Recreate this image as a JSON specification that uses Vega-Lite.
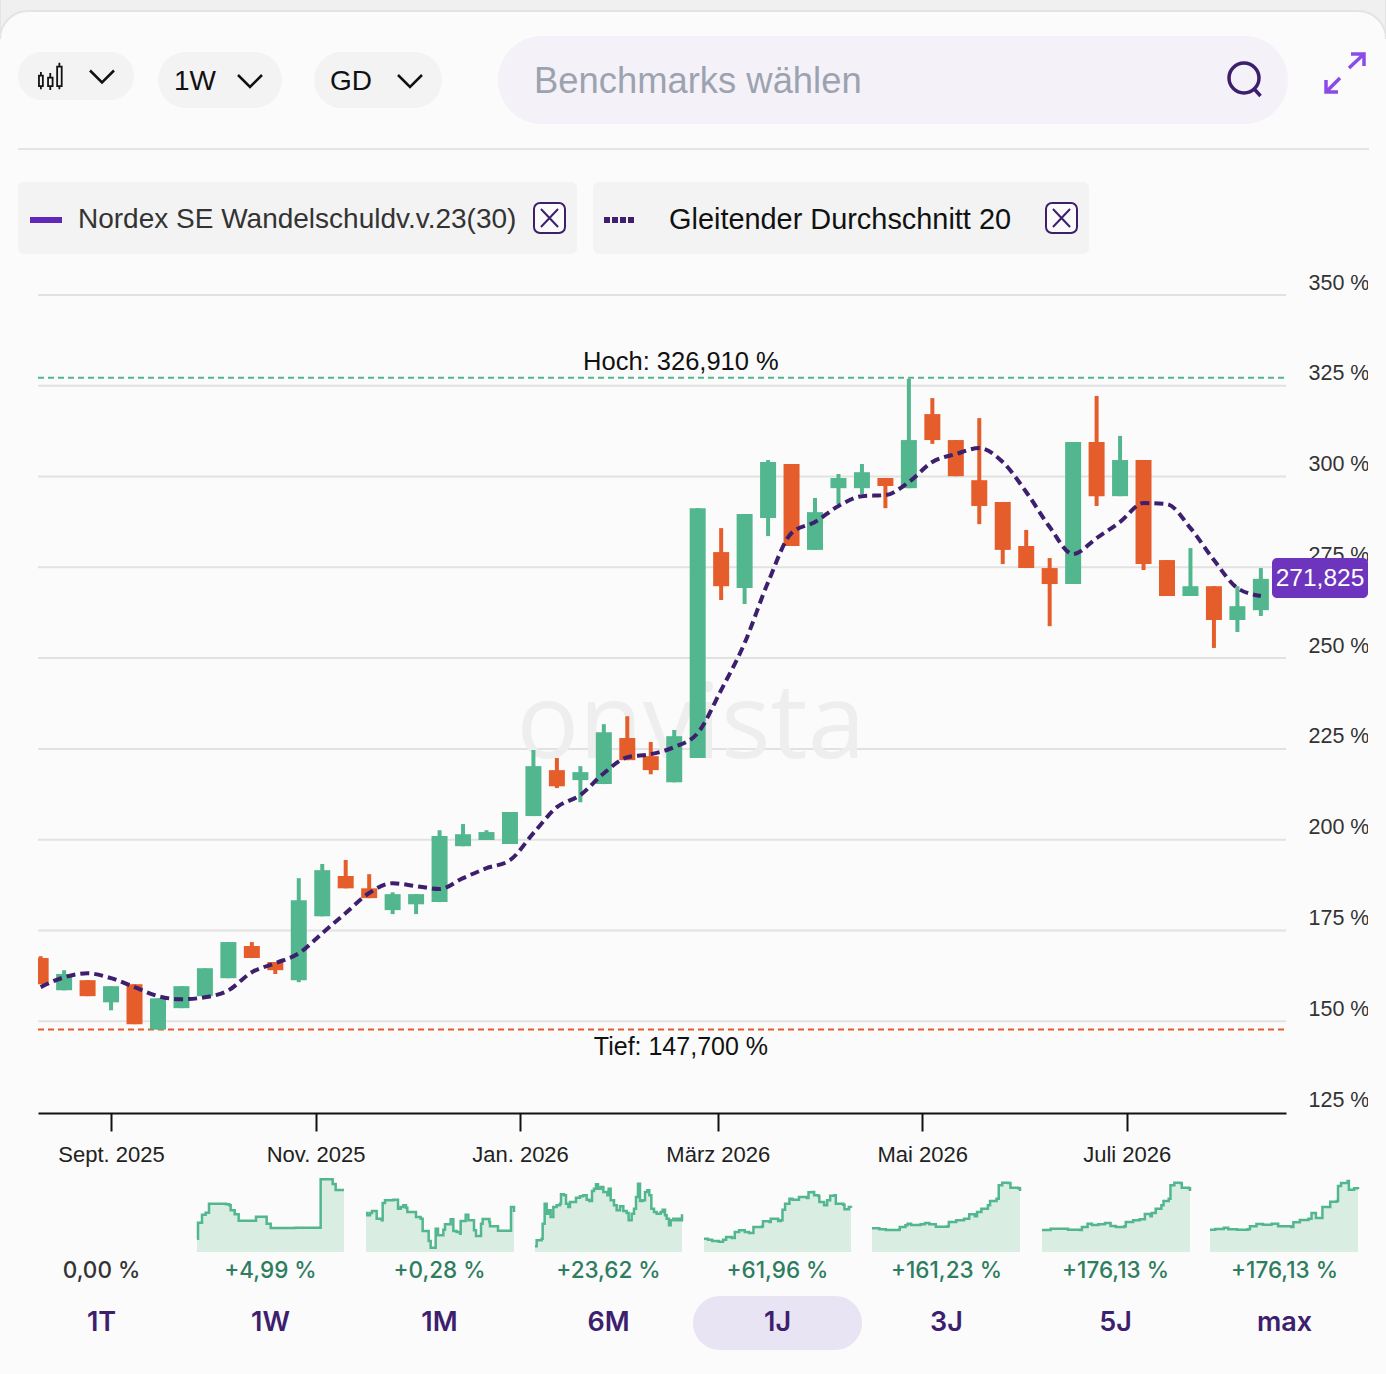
{
  "$schema": "https://vega.github.io/schema/vega-lite/v6.json",
  "width": 1386,
  "height": 1374,
  "padding": 0,
  "autosize": {"type": "none"},
  "background": "#fbfbfb",
  "config": {"view": {"stroke": null}, "font": "Liberation Sans"},
  "data": {"values": [{"part": "chrome"}]},
  "datasets": {
    "levels": [{"level": 350}, {"level": 325}, {"level": 300}, {"level": 275}, {"level": 250}, {"level": 225}, {"level": 200}, {"level": 175}, {"level": 150}],
    "weeks": [
      {"date": "2025-08-11T00:00:00", "open": 167.4, "high": 167.9, "low": 160.2, "close": 160.2, "sma": 159.4},
      {"date": "2025-08-18T00:00:00", "open": 158.5, "high": 164.05, "low": 158.5, "close": 163, "sma": 162.1},
      {"date": "2025-08-25T00:00:00", "open": 161.3, "high": 161.3, "low": 156.9, "close": 156.9, "sma": 163.2},
      {"date": "2025-09-01T00:00:00", "open": 155.2, "high": 159.65, "low": 153, "close": 159.65, "sma": 161.85},
      {"date": "2025-09-08T00:00:00", "open": 160.2, "high": 160.2, "low": 149.2, "close": 149.2, "sma": 159.4},
      {"date": "2025-09-15T00:00:00", "open": 147.7, "high": 156.3, "low": 147.7, "close": 156.3, "sma": 156.9},
      {"date": "2025-09-22T00:00:00", "open": 153.6, "high": 159.65, "low": 153.6, "close": 159.65, "sma": 156.05},
      {"date": "2025-09-29T00:00:00", "open": 156.9, "high": 164.6, "low": 156.9, "close": 164.6, "sma": 156.6},
      {"date": "2025-10-06T00:00:00", "open": 161.85, "high": 171.8, "low": 161.85, "close": 171.8, "sma": 158.5},
      {"date": "2025-10-13T00:00:00", "open": 170.7, "high": 171.8, "low": 167.4, "close": 167.4, "sma": 163.5},
      {"date": "2025-10-20T00:00:00", "open": 166.3, "high": 166.3, "low": 163, "close": 164.05, "sma": 166},
      {"date": "2025-10-27T00:00:00", "open": 161.3, "high": 189.4, "low": 160.75, "close": 183.3, "sma": 168.7},
      {"date": "2025-11-03T00:00:00", "open": 178.9, "high": 193.3, "low": 178.9, "close": 191.6, "sma": 174.25},
      {"date": "2025-11-10T00:00:00", "open": 190, "high": 194.4, "low": 186.6, "close": 186.6, "sma": 179.8},
      {"date": "2025-11-17T00:00:00", "open": 186.6, "high": 190.5, "low": 183.9, "close": 183.9, "sma": 185.3},
      {"date": "2025-11-24T00:00:00", "open": 180.6, "high": 185.5, "low": 179.5, "close": 185, "sma": 188},
      {"date": "2025-12-01T00:00:00", "open": 182.2, "high": 185, "low": 179.5, "close": 185, "sma": 187.2},
      {"date": "2025-12-08T00:00:00", "open": 182.8, "high": 202.6, "low": 182.8, "close": 201, "sma": 186.4},
      {"date": "2025-12-15T00:00:00", "open": 198.2, "high": 204.3, "low": 198.2, "close": 201.5, "sma": 189.4},
      {"date": "2025-12-22T00:00:00", "open": 199.9, "high": 202.6, "low": 199.9, "close": 202.1, "sma": 192.15},
      {"date": "2025-12-29T00:00:00", "open": 198.8, "high": 207.6, "low": 198.8, "close": 207.6, "sma": 194.35},
      {"date": "2026-01-05T00:00:00", "open": 206.5, "high": 224.7, "low": 206.5, "close": 220.25, "sma": 201.8},
      {"date": "2026-01-12T00:00:00", "open": 219.15, "high": 222.5, "low": 214.2, "close": 214.7, "sma": 208.95},
      {"date": "2026-01-19T00:00:00", "open": 216.4, "high": 220.25, "low": 210.3, "close": 218.6, "sma": 212.3},
      {"date": "2026-01-26T00:00:00", "open": 215.3, "high": 231.8, "low": 215.3, "close": 229.6, "sma": 218.3},
      {"date": "2026-02-02T00:00:00", "open": 228, "high": 234, "low": 221.9, "close": 221.9, "sma": 222.7},
      {"date": "2026-02-09T00:00:00", "open": 223, "high": 226.9, "low": 218, "close": 219.15, "sma": 223.55},
      {"date": "2026-02-16T00:00:00", "open": 215.8, "high": 230.2, "low": 215.8, "close": 228.5, "sma": 225.5},
      {"date": "2026-02-23T00:00:00", "open": 222.5, "high": 291.3, "low": 222.5, "close": 291.3, "sma": 229.35},
      {"date": "2026-03-02T00:00:00", "open": 279.2, "high": 285.8, "low": 266, "close": 269.8, "sma": 241.2},
      {"date": "2026-03-09T00:00:00", "open": 269.3, "high": 289.7, "low": 264.9, "close": 289.7, "sma": 254.15},
      {"date": "2026-03-16T00:00:00", "open": 288.6, "high": 304.55, "low": 283.6, "close": 304, "sma": 270.9},
      {"date": "2026-03-23T00:00:00", "open": 303.45, "high": 303.45, "low": 280.9, "close": 280.9, "sma": 284.45},
      {"date": "2026-03-30T00:00:00", "open": 279.8, "high": 294.1, "low": 279.8, "close": 290.2, "sma": 287.5},
      {"date": "2026-04-06T00:00:00", "open": 296.8, "high": 300.7, "low": 292.4, "close": 299.6, "sma": 291.9},
      {"date": "2026-04-13T00:00:00", "open": 296.8, "high": 303.45, "low": 295.2, "close": 301.2, "sma": 294.6},
      {"date": "2026-04-20T00:00:00", "open": 299.6, "high": 299.6, "low": 291.3, "close": 297.4, "sma": 294.9},
      {"date": "2026-04-27T00:00:00", "open": 296.8, "high": 326.91, "low": 296.8, "close": 310.05, "sma": 298.5},
      {"date": "2026-05-04T00:00:00", "open": 317.2, "high": 321.6, "low": 309, "close": 310.05, "sma": 304},
      {"date": "2026-05-11T00:00:00", "open": 310.05, "high": 310.05, "low": 300.1, "close": 300.1, "sma": 306.2},
      {"date": "2026-05-18T00:00:00", "open": 299, "high": 316.1, "low": 286.9, "close": 291.9, "sma": 307.85},
      {"date": "2026-05-25T00:00:00", "open": 293, "high": 293, "low": 275.9, "close": 279.8, "sma": 304},
      {"date": "2026-06-01T00:00:00", "open": 280.9, "high": 285.3, "low": 274.8, "close": 274.8, "sma": 295.75},
      {"date": "2026-06-08T00:00:00", "open": 274.8, "high": 277.55, "low": 258.8, "close": 270.4, "sma": 286.1},
      {"date": "2026-06-15T00:00:00", "open": 270.4, "high": 309.5, "low": 270.4, "close": 309.5, "sma": 278.65},
      {"date": "2026-06-22T00:00:00", "open": 309.5, "high": 322.2, "low": 291.9, "close": 294.6, "sma": 283.05},
      {"date": "2026-06-29T00:00:00", "open": 294.6, "high": 311.2, "low": 294.6, "close": 304.55, "sma": 287.5},
      {"date": "2026-07-06T00:00:00", "open": 304.55, "high": 304.55, "low": 274.25, "close": 275.9, "sma": 292.7},
      {"date": "2026-07-13T00:00:00", "open": 277, "high": 277, "low": 267.1, "close": 267.1, "sma": 292.4},
      {"date": "2026-07-20T00:00:00", "open": 267.1, "high": 280.3, "low": 267.1, "close": 269.8, "sma": 285.8},
      {"date": "2026-07-27T00:00:00", "open": 269.8, "high": 269.8, "low": 252.8, "close": 260.5, "sma": 277},
      {"date": "2026-08-03T00:00:00", "open": 260.5, "high": 269.8, "low": 257.2, "close": 264.3, "sma": 269.3},
      {"date": "2026-08-10T00:00:00", "open": 263.2, "high": 274.8, "low": 261.6, "close": 271.825, "sma": 267.1}
    ],
    "periods": [
      {"period": "1T", "change": "0,00 %", "up": false, "active": false},
      {"period": "1W", "change": "+4,99 %", "up": true, "active": false},
      {"period": "1M", "change": "+0,28 %", "up": true, "active": false},
      {"period": "6M", "change": "+23,62 %", "up": true, "active": false},
      {"period": "1J", "change": "+61,96 %", "up": true, "active": true},
      {"period": "3J", "change": "+161,23 %", "up": true, "active": false},
      {"period": "5J", "change": "+176,13 %", "up": true, "active": false},
      {"period": "max", "change": "+176,13 %", "up": true, "active": false}
    ]
  },
  "resolve": {"scale": {"x": "independent", "y": "independent"}},
  "layer": [
    {"mark": {"type": "point", "shape": "M-1,-0.0361L1,-0.0361L1,0.0274A0.0404,0.0404 0 0,0 0.9596,-0.013L-0.9596,-0.013A0.0404,0.0404 0 0,0 -1,0.0274Z", "size": 1920996, "filled": true, "fill": "#f0f0f0", "stroke": "#e4e4e4", "strokeWidth": 2, "opacity": 1}, "encoding": {"x": {"datum": 693, "type": "quantitative", "axis": null, "scale": {"domain": [0, 1386], "range": [0, 1386]}}, "y": {"datum": 20, "type": "quantitative", "axis": null, "scale": {"domain": [0, 1374], "range": [0, 1374]}}}},
    {"mark": {"type": "rect", "fill": "#f3f3f3", "cornerRadius": 24}, "encoding": {"x": {"datum": 18, "type": "quantitative", "axis": null, "scale": {"domain": [0, 1386], "range": [0, 1386]}}, "x2": {"datum": 134}, "y": {"datum": 52, "type": "quantitative", "axis": null, "scale": {"domain": [0, 1374], "range": [0, 1374]}}, "y2": {"datum": 100}}},
    {"mark": {"type": "rect", "fill": "#f3f3f3", "cornerRadius": 28}, "encoding": {"x": {"datum": 158, "type": "quantitative", "axis": null, "scale": {"domain": [0, 1386], "range": [0, 1386]}}, "x2": {"datum": 282}, "y": {"datum": 52, "type": "quantitative", "axis": null, "scale": {"domain": [0, 1374], "range": [0, 1374]}}, "y2": {"datum": 108}}},
    {"mark": {"type": "rect", "fill": "#f3f3f3", "cornerRadius": 28}, "encoding": {"x": {"datum": 314, "type": "quantitative", "axis": null, "scale": {"domain": [0, 1386], "range": [0, 1386]}}, "x2": {"datum": 442}, "y": {"datum": 52, "type": "quantitative", "axis": null, "scale": {"domain": [0, 1374], "range": [0, 1374]}}, "y2": {"datum": 108}}},
    {"mark": {"type": "rect", "fill": "#f4f1f9", "cornerRadius": 44}, "encoding": {"x": {"datum": 498, "type": "quantitative", "axis": null, "scale": {"domain": [0, 1386], "range": [0, 1386]}}, "x2": {"datum": 1288}, "y": {"datum": 36, "type": "quantitative", "axis": null, "scale": {"domain": [0, 1374], "range": [0, 1374]}}, "y2": {"datum": 124}}},
    {"mark": {"type": "rect", "fill": "#e4e4e4"}, "encoding": {"x": {"datum": 18, "type": "quantitative", "axis": null, "scale": {"domain": [0, 1386], "range": [0, 1386]}}, "x2": {"datum": 1369}, "y": {"datum": 148, "type": "quantitative", "axis": null, "scale": {"domain": [0, 1374], "range": [0, 1374]}}, "y2": {"datum": 150}}},
    {"mark": {"type": "rect", "fill": "#f3f3f3", "cornerRadius": 6}, "encoding": {"x": {"datum": 18, "type": "quantitative", "axis": null, "scale": {"domain": [0, 1386], "range": [0, 1386]}}, "x2": {"datum": 577}, "y": {"datum": 182, "type": "quantitative", "axis": null, "scale": {"domain": [0, 1374], "range": [0, 1374]}}, "y2": {"datum": 254}}},
    {"mark": {"type": "rect", "fill": "#f3f3f3", "cornerRadius": 6}, "encoding": {"x": {"datum": 593, "type": "quantitative", "axis": null, "scale": {"domain": [0, 1386], "range": [0, 1386]}}, "x2": {"datum": 1089}, "y": {"datum": 182, "type": "quantitative", "axis": null, "scale": {"domain": [0, 1374], "range": [0, 1374]}}, "y2": {"datum": 254}}},
    {"mark": {"type": "rect", "fill": "#5f28b8"}, "encoding": {"x": {"datum": 30, "type": "quantitative", "axis": null, "scale": {"domain": [0, 1386], "range": [0, 1386]}}, "x2": {"datum": 62}, "y": {"datum": 217, "type": "quantitative", "axis": null, "scale": {"domain": [0, 1374], "range": [0, 1374]}}, "y2": {"datum": 223}}},
    {"mark": {"type": "rule", "stroke": "#3d1f6e", "strokeWidth": 6, "strokeDash": [6, 2]}, "encoding": {"x": {"datum": 604, "type": "quantitative", "axis": null, "scale": {"domain": [0, 1386], "range": [0, 1386]}}, "x2": {"datum": 634}, "y": {"datum": 220, "type": "quantitative", "axis": null, "scale": {"domain": [0, 1374], "range": [0, 1374]}}}},
    {"mark": {"type": "rect", "fill": "#fbfbfb", "stroke": "#3d1f6e", "strokeWidth": 2, "cornerRadius": 6}, "encoding": {"x": {"datum": 534, "type": "quantitative", "axis": null, "scale": {"domain": [0, 1386], "range": [0, 1386]}}, "x2": {"datum": 565}, "y": {"datum": 203, "type": "quantitative", "axis": null, "scale": {"domain": [0, 1374], "range": [0, 1374]}}, "y2": {"datum": 233}}},
    {"mark": {"type": "rect", "fill": "#fbfbfb", "stroke": "#3d1f6e", "strokeWidth": 2, "cornerRadius": 6}, "encoding": {"x": {"datum": 1046, "type": "quantitative", "axis": null, "scale": {"domain": [0, 1386], "range": [0, 1386]}}, "x2": {"datum": 1077}, "y": {"datum": 203, "type": "quantitative", "axis": null, "scale": {"domain": [0, 1374], "range": [0, 1374]}}, "y2": {"datum": 233}}},
    {"mark": {"type": "point", "shape": "M-0.95,-1L0.95,1M0.95,-1L-0.95,1", "size": 324, "filled": false, "stroke": "#3d1f6e", "strokeWidth": 2, "opacity": 1}, "encoding": {"x": {"datum": 549.5, "type": "quantitative", "axis": null, "scale": {"domain": [0, 1386], "range": [0, 1386]}}, "y": {"datum": 218, "type": "quantitative", "axis": null, "scale": {"domain": [0, 1374], "range": [0, 1374]}}}},
    {"mark": {"type": "point", "shape": "M-0.95,-1L0.95,1M0.95,-1L-0.95,1", "size": 324, "filled": false, "stroke": "#3d1f6e", "strokeWidth": 2, "opacity": 1}, "encoding": {"x": {"datum": 1061.5, "type": "quantitative", "axis": null, "scale": {"domain": [0, 1386], "range": [0, 1386]}}, "y": {"datum": 218, "type": "quantitative", "axis": null, "scale": {"domain": [0, 1374], "range": [0, 1374]}}}},
    {"mark": {"type": "point", "shape": "M-0.85,-0.1H-0.55V0.7H-0.85ZM-0.7,-0.38V-0.1M-0.7,0.7V0.95M-0.15,0.05H0.2V0.7H-0.15ZM0.02,-0.3V0.05M0.02,0.7V1M0.55,-0.8H0.9V0.7H0.55ZM0.72,-1.1V-0.8M0.72,0.7V0.95", "size": 676, "filled": false, "stroke": "#111111", "strokeWidth": 1.8, "opacity": 1}, "encoding": {"x": {"datum": 50, "type": "quantitative", "axis": null, "scale": {"domain": [0, 1386], "range": [0, 1386]}}, "y": {"datum": 77, "type": "quantitative", "axis": null, "scale": {"domain": [0, 1374], "range": [0, 1374]}}}},
    {"mark": {"type": "point", "shape": "M-1,-0.5L0,0.5L1,-0.5", "size": 576, "filled": false, "stroke": "#111111", "strokeWidth": 2.5, "opacity": 1}, "encoding": {"x": {"datum": 102, "type": "quantitative", "axis": null, "scale": {"domain": [0, 1386], "range": [0, 1386]}}, "y": {"datum": 76.5, "type": "quantitative", "axis": null, "scale": {"domain": [0, 1374], "range": [0, 1374]}}}},
    {"mark": {"type": "point", "shape": "M-1,-0.5L0,0.5L1,-0.5", "size": 576, "filled": false, "stroke": "#111111", "strokeWidth": 2.5, "opacity": 1}, "encoding": {"x": {"datum": 250, "type": "quantitative", "axis": null, "scale": {"domain": [0, 1386], "range": [0, 1386]}}, "y": {"datum": 81, "type": "quantitative", "axis": null, "scale": {"domain": [0, 1374], "range": [0, 1374]}}}},
    {"mark": {"type": "point", "shape": "M-1,-0.5L0,0.5L1,-0.5", "size": 576, "filled": false, "stroke": "#111111", "strokeWidth": 2.5, "opacity": 1}, "encoding": {"x": {"datum": 410, "type": "quantitative", "axis": null, "scale": {"domain": [0, 1386], "range": [0, 1386]}}, "y": {"datum": 81, "type": "quantitative", "axis": null, "scale": {"domain": [0, 1374], "range": [0, 1374]}}}},
    {"mark": {"type": "point", "shape": "M-1,0A1,1 0 1,1 1,0A1,1 0 1,1 -1,0M0.7,0.75L1.1,1.2", "size": 900, "filled": false, "stroke": "#3d1f6e", "strokeWidth": 3.5, "opacity": 1}, "encoding": {"x": {"datum": 1244, "type": "quantitative", "axis": null, "scale": {"domain": [0, 1386], "range": [0, 1386]}}, "y": {"datum": 78, "type": "quantitative", "axis": null, "scale": {"domain": [0, 1374], "range": [0, 1374]}}}},
    {"mark": {"type": "point", "shape": "M0.3,-0.95L0.95,-0.95L0.95,-0.35M0.95,-0.95L0.2,-0.25M-0.95,0.35L-0.95,0.95L-0.35,0.95M-0.95,0.95L-0.25,0.25", "size": 1600, "filled": false, "stroke": "#8a4be8", "strokeWidth": 3.5, "opacity": 1}, "encoding": {"x": {"datum": 1345, "type": "quantitative", "axis": null, "scale": {"domain": [0, 1386], "range": [0, 1386]}}, "y": {"datum": 73, "type": "quantitative", "axis": null, "scale": {"domain": [0, 1374], "range": [0, 1374]}}}},
    {"mark": {"type": "text", "text": "1W", "fontSize": 28, "align": "left", "baseline": "middle", "color": "#111111"}, "encoding": {"x": {"datum": 174, "type": "quantitative", "axis": null, "scale": {"domain": [0, 1386], "range": [0, 1386]}}, "y": {"datum": 82, "type": "quantitative", "axis": null, "scale": {"domain": [0, 1374], "range": [0, 1374]}}}},
    {"mark": {"type": "text", "text": "GD", "fontSize": 28, "align": "left", "baseline": "middle", "color": "#111111"}, "encoding": {"x": {"datum": 330, "type": "quantitative", "axis": null, "scale": {"domain": [0, 1386], "range": [0, 1386]}}, "y": {"datum": 82, "type": "quantitative", "axis": null, "scale": {"domain": [0, 1374], "range": [0, 1374]}}}},
    {"mark": {"type": "text", "text": "Benchmarks wählen", "fontSize": 36.4, "align": "left", "baseline": "middle", "color": "#9ca3af"}, "encoding": {"x": {"datum": 534, "type": "quantitative", "axis": null, "scale": {"domain": [0, 1386], "range": [0, 1386]}}, "y": {"datum": 82, "type": "quantitative", "axis": null, "scale": {"domain": [0, 1374], "range": [0, 1374]}}}},
    {"mark": {"type": "text", "text": "Nordex SE Wandelschuldv.v.23(30)", "fontSize": 28, "align": "left", "baseline": "middle", "color": "#333333"}, "encoding": {"x": {"datum": 78, "type": "quantitative", "axis": null, "scale": {"domain": [0, 1386], "range": [0, 1386]}}, "y": {"datum": 219.5, "type": "quantitative", "axis": null, "scale": {"domain": [0, 1374], "range": [0, 1374]}}}},
    {"mark": {"type": "text", "text": "Gleitender Durchschnitt 20", "fontSize": 28.9, "align": "left", "baseline": "middle", "color": "#111111"}, "encoding": {"x": {"datum": 669, "type": "quantitative", "axis": null, "scale": {"domain": [0, 1386], "range": [0, 1386]}}, "y": {"datum": 219.5, "type": "quantitative", "axis": null, "scale": {"domain": [0, 1374], "range": [0, 1374]}}}},
    {
      "layer": [
        {
          "data": {"name": "levels"},
          "mark": {"type": "rule", "stroke": "#e2e2e2", "strokeWidth": 2},
          "encoding": {
            "x": {"datum": {"year": 2025, "month": 8, "date": 10, "hours": 5}, "type": "temporal", "title": null,
              "scale": {"domain": [{"year": 2025, "month": 8, "date": 10, "hours": 5}, {"year": 2026, "month": 8, "date": 17, "hours": 12}], "range": [38, 1286], "padding": 0},
              "axis": {"title": null, "orient": "bottom", "offset": -261, "values": [{"year": 2025, "month": 9, "date": 1}, {"year": 2025, "month": 11, "date": 1}, {"year": 2026, "month": 1, "date": 1}, {"year": 2026, "month": 3, "date": 1}, {"year": 2026, "month": 5, "date": 1}, {"year": 2026, "month": 7, "date": 1}],
                "labelExpr": "['Jan.','','März','','Mai','','Juli','','Sept.','','Nov.',''][month(datum.value)]+' '+year(datum.value)",
                "grid": false, "domainColor": "#111111", "domainWidth": 2, "tickColor": "#111111", "tickWidth": 2, "tickSize": 18, "labelPadding": 23, "labelBaseline": "middle", "labelFontSize": 22, "labelColor": "#222222", "labelOverlap": false, "labelFlush": false}},
            "x2": {"datum": {"year": 2026, "month": 8, "date": 17, "hours": 12}},
            "y": {"field": "level", "type": "quantitative", "title": null,
              "scale": {"domain": [125, 350], "range": [1112, 295], "nice": false},
              "axis": {"title": null, "orient": "right", "offset": -100, "values": [125, 150, 175, 200, 225, 250, 275, 300, 325, 350], "labelExpr": "datum.value+' %'", "grid": false, "domain": false, "ticks": false, "labelPadding": 22, "labelOffset": -12, "labelFontSize": 21.5, "labelColor": "#333333", "labelOverlap": false, "labelFlush": false, "labelAlign": "left"}}
          }
        },
        {
          "mark": {"type": "text", "text": "onvista", "fontSize": 104, "font": "Open Sans", "fontWeight": 500, "color": "#eeeeee", "baseline": "middle"},
          "encoding": {
            "x": {"datum": {"year": 2026, "month": 2, "date": 21}, "type": "temporal", "title": null, "scale": {"domain": [{"year": 2025, "month": 8, "date": 10, "hours": 5}, {"year": 2026, "month": 8, "date": 17, "hours": 12}], "range": [38, 1286], "padding": 0}},
            "y": {"datum": 231, "type": "quantitative", "title": null, "scale": {"domain": [125, 350], "range": [1112, 295], "nice": false}}
          }
        },
        {
          "data": {"values": [{"label": "Hoch: 326,910 %", "value": 326.91}]},
          "mark": {"type": "rule", "stroke": "#52b78f", "strokeWidth": 2, "strokeDash": [6, 4], "yOffset": -1},
          "encoding": {
            "x": {"datum": {"year": 2025, "month": 8, "date": 10, "hours": 5}, "type": "temporal", "title": null, "scale": {"domain": [{"year": 2025, "month": 8, "date": 10, "hours": 5}, {"year": 2026, "month": 8, "date": 17, "hours": 12}], "range": [38, 1286], "padding": 0}},
            "x2": {"datum": {"year": 2026, "month": 8, "date": 17, "hours": 12}},
            "y": {"field": "value", "type": "quantitative", "title": null, "scale": {"domain": [125, 350], "range": [1112, 295], "nice": false}}
          }
        },
        {
          "data": {"values": [{"label": "Tief: 147,700 %", "value": 147.7}]},
          "mark": {"type": "rule", "stroke": "#e55d2b", "strokeWidth": 2, "strokeDash": [6, 4]},
          "encoding": {
            "x": {"datum": {"year": 2025, "month": 8, "date": 10, "hours": 5}, "type": "temporal", "title": null, "scale": {"domain": [{"year": 2025, "month": 8, "date": 10, "hours": 5}, {"year": 2026, "month": 8, "date": 17, "hours": 12}], "range": [38, 1286], "padding": 0}},
            "x2": {"datum": {"year": 2026, "month": 8, "date": 17, "hours": 12}},
            "y": {"field": "value", "type": "quantitative", "title": null, "scale": {"domain": [125, 350], "range": [1112, 295], "nice": false}}
          }
        },
        {
          "data": {"name": "weeks"},
          "mark": {"type": "rule", "strokeWidth": 4},
          "encoding": {
            "x": {"field": "date", "type": "temporal", "title": null, "scale": {"domain": [{"year": 2025, "month": 8, "date": 10, "hours": 5}, {"year": 2026, "month": 8, "date": 17, "hours": 12}], "range": [38, 1286], "padding": 0}},
            "y": {"field": "low", "type": "quantitative", "title": null, "scale": {"domain": [125, 350], "range": [1112, 295], "nice": false}},
            "y2": {"field": "high"},
            "color": {"condition": {"test": "datum.close>=datum.open", "value": "#52b78f"}, "value": "#e55d2b"}
          }
        },
        {
          "data": {"name": "weeks"},
          "mark": {"type": "bar", "size": 16},
          "encoding": {
            "x": {"field": "date", "type": "temporal", "title": null, "scale": {"domain": [{"year": 2025, "month": 8, "date": 10, "hours": 5}, {"year": 2026, "month": 8, "date": 17, "hours": 12}], "range": [38, 1286], "padding": 0}},
            "y": {"field": "open", "type": "quantitative", "title": null, "scale": {"domain": [125, 350], "range": [1112, 295], "nice": false}},
            "y2": {"field": "close"},
            "color": {"condition": {"test": "datum.close>=datum.open", "value": "#52b78f"}, "value": "#e55d2b"}
          }
        },
        {
          "data": {"name": "weeks"},
          "mark": {"type": "line", "stroke": "#3d1f6e", "strokeWidth": 4, "strokeDash": [9, 5], "interpolate": "monotone"},
          "encoding": {
            "x": {"field": "date", "type": "temporal", "title": null, "scale": {"domain": [{"year": 2025, "month": 8, "date": 10, "hours": 5}, {"year": 2026, "month": 8, "date": 17, "hours": 12}], "range": [38, 1286], "padding": 0}},
            "y": {"field": "sma", "type": "quantitative", "title": null, "scale": {"domain": [125, 350], "range": [1112, 295], "nice": false}}
          }
        },
        {
          "data": {"values": [{"label": "Hoch: 326,910 %", "value": 326.91}]},
          "mark": {"type": "text", "fontSize": 25.5, "color": "#111111", "dy": -17, "baseline": "middle"},
          "encoding": {
            "x": {"datum": {"year": 2026, "month": 2, "date": 18}, "type": "temporal", "title": null, "scale": {"domain": [{"year": 2025, "month": 8, "date": 10, "hours": 5}, {"year": 2026, "month": 8, "date": 17, "hours": 12}], "range": [38, 1286], "padding": 0}},
            "y": {"field": "value", "type": "quantitative", "title": null, "scale": {"domain": [125, 350], "range": [1112, 295], "nice": false}},
            "text": {"field": "label"}
          }
        },
        {
          "data": {"values": [{"label": "Tief: 147,700 %", "value": 147.7}]},
          "mark": {"type": "text", "fontSize": 25, "color": "#111111", "dy": 17, "baseline": "middle"},
          "encoding": {
            "x": {"datum": {"year": 2026, "month": 2, "date": 18}, "type": "temporal", "title": null, "scale": {"domain": [{"year": 2025, "month": 8, "date": 10, "hours": 5}, {"year": 2026, "month": 8, "date": 17, "hours": 12}], "range": [38, 1286], "padding": 0}},
            "y": {"field": "value", "type": "quantitative", "title": null, "scale": {"domain": [125, 350], "range": [1112, 295], "nice": false}},
            "text": {"field": "label"}
          }
        }
      ]
    },
    {"mark": {"type": "rect", "fill": "#fbfbfb"}, "encoding": {"x": {"datum": 20, "type": "quantitative", "axis": null, "scale": {"domain": [0, 1386], "range": [0, 1386]}}, "x2": {"datum": 38}, "y": {"datum": 940, "type": "quantitative", "axis": null, "scale": {"domain": [0, 1374], "range": [0, 1374]}}, "y2": {"datum": 1000}}},
    {"mark": {"type": "rect", "fill": "#fbfbfb"}, "encoding": {"x": {"datum": 1368, "type": "quantitative", "axis": null, "scale": {"domain": [0, 1386], "range": [0, 1386]}}, "x2": {"datum": 1386}, "y": {"datum": 265, "type": "quantitative", "axis": null, "scale": {"domain": [0, 1374], "range": [0, 1374]}}, "y2": {"datum": 1120}}},
    {"mark": {"type": "rect", "fill": "#6d35bd", "cornerRadius": 5}, "encoding": {"x": {"datum": 1272, "type": "quantitative", "axis": null, "scale": {"domain": [0, 1386], "range": [0, 1386]}}, "x2": {"datum": 1368}, "y": {"datum": 558, "type": "quantitative", "axis": null, "scale": {"domain": [0, 1374], "range": [0, 1374]}}, "y2": {"datum": 598}}},
    {"mark": {"type": "text", "text": "271,825", "fontSize": 24.5, "color": "#ffffff", "baseline": "middle"}, "encoding": {"x": {"datum": 1320, "type": "quantitative", "axis": null, "scale": {"domain": [0, 1386], "range": [0, 1386]}}, "y": {"datum": 579, "type": "quantitative", "axis": null, "scale": {"domain": [0, 1374], "range": [0, 1374]}}}},
    {
      "data": {"values": [{"t":0,"v":13.3},{"t":3,"v":29.3},{"t":15,"v":37.3},{"t":26,"v":39.3},{"t":36,"v":48.3},{"t":87,"v":47.7},{"t":97,"v":46.7},{"t":101,"v":41.7},{"t":113,"v":37.7},{"t":125,"v":31.3},{"t":177,"v":35.3},{"t":209,"v":28.3},{"t":221,"v":24},{"t":295,"v":24.3},{"t":371,"v":72.7},{"t":407,"v":68},{"t":416,"v":62},{"t":441,"v":62}]},
      "mark": {"type": "area", "interpolate": "step-after", "fill": "#d9ede3", "opacity": 1, "line": {"stroke": "#52b78f", "strokeWidth": 2.5}},
      "encoding": {"x": {"field": "t", "type": "quantitative", "axis": null, "scale": {"domain": [0, 441], "range": [197, 344]}}, "y": {"field": "v", "type": "quantitative", "axis": null, "scale": {"domain": [0, 75], "range": [1252, 1177]}}}
    },
    {
      "data": {"values": [{"t":0,"v":39},{"t":4,"v":36.7},{"t":12,"v":39},{"t":18,"v":41},{"t":27,"v":41},{"t":32,"v":33.3},{"t":47,"v":31.7},{"t":50,"v":49},{"t":57,"v":51.7},{"t":70,"v":51.7},{"t":82,"v":52.3},{"t":94,"v":52.3},{"t":96,"v":43.3},{"t":104,"v":45},{"t":112,"v":46.7},{"t":120,"v":44.3},{"t":124,"v":40},{"t":147,"v":40},{"t":150,"v":35},{"t":164,"v":33.3},{"t":170,"v":21},{"t":184,"v":21},{"t":188,"v":11},{"t":194,"v":4.3},{"t":207,"v":4.3},{"t":209,"v":23.3},{"t":216,"v":16.7},{"t":229,"v":16.7},{"t":232,"v":22.3},{"t":237,"v":27.7},{"t":250,"v":27.7},{"t":254,"v":32.7},{"t":260,"v":32.7},{"t":262,"v":21},{"t":272,"v":20},{"t":282,"v":18.3},{"t":284,"v":31},{"t":297,"v":31},{"t":299,"v":37.3},{"t":305,"v":37.3},{"t":307,"v":31.7},{"t":320,"v":31.7},{"t":324,"v":21.7},{"t":330,"v":16},{"t":342,"v":16},{"t":345,"v":28.3},{"t":350,"v":33},{"t":362,"v":33},{"t":370,"v":30},{"t":372,"v":25.7},{"t":392,"v":25.7},{"t":396,"v":21.3},{"t":432,"v":21.3},{"t":435,"v":45},{"t":440,"v":45},{"t":444,"v":40}]},
      "mark": {"type": "area", "interpolate": "step-after", "fill": "#d9ede3", "opacity": 1, "line": {"stroke": "#52b78f", "strokeWidth": 2.5}},
      "encoding": {"x": {"field": "t", "type": "quantitative", "axis": null, "scale": {"domain": [0, 444], "range": [366, 514]}}, "y": {"field": "v", "type": "quantitative", "axis": null, "scale": {"domain": [0, 75], "range": [1252, 1177]}}}
    },
    {
      "data": {"values": [{"t":0,"v":5.7},{"t":5,"v":11.7},{"t":20,"v":13.3},{"t":23,"v":28.3},{"t":29,"v":48.3},{"t":35,"v":38.3},{"t":41,"v":41.7},{"t":47,"v":35},{"t":55,"v":45},{"t":65,"v":46.7},{"t":75,"v":48.3},{"t":78,"v":57.7},{"t":87,"v":56.7},{"t":93,"v":48.3},{"t":100,"v":45},{"t":105,"v":50},{"t":115,"v":50},{"t":123,"v":54.3},{"t":135,"v":55.7},{"t":145,"v":56.7},{"t":155,"v":52.3},{"t":163,"v":51},{"t":171,"v":61},{"t":177,"v":63.3},{"t":183,"v":67.7},{"t":189,"v":63.3},{"t":197,"v":65},{"t":205,"v":60},{"t":217,"v":56.7},{"t":221,"v":63.3},{"t":227,"v":51.7},{"t":237,"v":46.7},{"t":245,"v":41.7},{"t":255,"v":45.7},{"t":265,"v":41},{"t":275,"v":39},{"t":281,"v":31.7},{"t":290,"v":38.3},{"t":297,"v":43.3},{"t":303,"v":55},{"t":309,"v":68.3},{"t":315,"v":51},{"t":323,"v":51.7},{"t":330,"v":60},{"t":337,"v":61.7},{"t":343,"v":56.7},{"t":349,"v":43.3},{"t":357,"v":40},{"t":365,"v":38.3},{"t":377,"v":40},{"t":383,"v":42.3},{"t":390,"v":36.7},{"t":395,"v":33.3},{"t":402,"v":26.7},{"t":407,"v":31.7},{"t":415,"v":33.3},{"t":423,"v":31.7},{"t":430,"v":33.3},{"t":435,"v":31.7},{"t":441,"v":37.7}]},
      "mark": {"type": "area", "interpolate": "step-after", "fill": "#d9ede3", "opacity": 1, "line": {"stroke": "#52b78f", "strokeWidth": 2.5}},
      "encoding": {"x": {"field": "t", "type": "quantitative", "axis": null, "scale": {"domain": [0, 441], "range": [535, 682]}}, "y": {"field": "v", "type": "quantitative", "axis": null, "scale": {"domain": [0, 75], "range": [1252, 1177]}}}
    },
    {
      "data": {"values": [{"t":0,"v":13.3},{"t":9,"v":12.3},{"t":19,"v":11},{"t":34,"v":10.3},{"t":44,"v":12.3},{"t":51,"v":15},{"t":64,"v":14},{"t":71,"v":20},{"t":81,"v":21.7},{"t":94,"v":20},{"t":104,"v":19},{"t":114,"v":25},{"t":134,"v":25.7},{"t":136,"v":30.7},{"t":151,"v":30},{"t":154,"v":33.3},{"t":167,"v":33.3},{"t":171,"v":31},{"t":177,"v":31.7},{"t":181,"v":42.3},{"t":187,"v":48.3},{"t":197,"v":53.3},{"t":204,"v":52.3},{"t":219,"v":55},{"t":237,"v":54},{"t":241,"v":59.7},{"t":249,"v":60},{"t":254,"v":56.7},{"t":264,"v":55.7},{"t":266,"v":50},{"t":277,"v":46.7},{"t":284,"v":51.7},{"t":291,"v":56.3},{"t":301,"v":56.7},{"t":304,"v":48.3},{"t":321,"v":47.3},{"t":324,"v":42.7},{"t":334,"v":45},{"t":339,"v":44.3}]},
      "mark": {"type": "area", "interpolate": "step-after", "fill": "#d9ede3", "opacity": 1, "line": {"stroke": "#52b78f", "strokeWidth": 2.5}},
      "encoding": {"x": {"field": "t", "type": "quantitative", "axis": null, "scale": {"domain": [0, 339], "range": [704, 851]}}, "y": {"field": "v", "type": "quantitative", "axis": null, "scale": {"domain": [0, 75], "range": [1252, 1177]}}}
    },
    {
      "data": {"values": [{"t":0,"v":23.7},{"t":17,"v":22.7},{"t":32,"v":22},{"t":62,"v":22.3},{"t":64,"v":25},{"t":77,"v":26.7},{"t":82,"v":28.3},{"t":90,"v":27},{"t":112,"v":27.7},{"t":122,"v":29},{"t":132,"v":27.7},{"t":147,"v":25.3},{"t":174,"v":25.7},{"t":177,"v":30},{"t":194,"v":31.7},{"t":212,"v":33.3},{"t":224,"v":37.7},{"t":237,"v":35.7},{"t":242,"v":40},{"t":252,"v":43.3},{"t":267,"v":46.7},{"t":272,"v":51},{"t":287,"v":53.3},{"t":292,"v":66.7},{"t":300,"v":69.3},{"t":314,"v":69},{"t":319,"v":64.3},{"t":337,"v":63.7},{"t":341,"v":61}]},
      "mark": {"type": "area", "interpolate": "step-after", "fill": "#d9ede3", "opacity": 1, "line": {"stroke": "#52b78f", "strokeWidth": 2.5}},
      "encoding": {"x": {"field": "t", "type": "quantitative", "axis": null, "scale": {"domain": [0, 341], "range": [872, 1020]}}, "y": {"field": "v", "type": "quantitative", "axis": null, "scale": {"domain": [0, 75], "range": [1252, 1177]}}}
    },
    {
      "data": {"values": [{"t":0,"v":22},{"t":20,"v":23.3},{"t":40,"v":23.3},{"t":60,"v":22.3},{"t":88,"v":22},{"t":92,"v":25},{"t":105,"v":28.3},{"t":115,"v":27},{"t":130,"v":27.7},{"t":145,"v":29},{"t":158,"v":26},{"t":170,"v":25},{"t":190,"v":25.7},{"t":193,"v":30},{"t":210,"v":31.7},{"t":225,"v":32.7},{"t":237,"v":38},{"t":250,"v":35.7},{"t":253,"v":39},{"t":262,"v":43.3},{"t":275,"v":46.7},{"t":280,"v":51},{"t":292,"v":53.3},{"t":296,"v":66.7},{"t":305,"v":69.3},{"t":318,"v":69},{"t":322,"v":64.3},{"t":338,"v":63.7},{"t":341,"v":61}]},
      "mark": {"type": "area", "interpolate": "step-after", "fill": "#d9ede3", "opacity": 1, "line": {"stroke": "#52b78f", "strokeWidth": 2.5}},
      "encoding": {"x": {"field": "t", "type": "quantitative", "axis": null, "scale": {"domain": [0, 341], "range": [1042, 1190]}}, "y": {"field": "v", "type": "quantitative", "axis": null, "scale": {"domain": [0, 75], "range": [1252, 1177]}}}
    },
    {
      "data": {"values": [{"t":0,"v":22.3},{"t":12,"v":23},{"t":32,"v":24.3},{"t":42,"v":22.7},{"t":62,"v":22.3},{"t":87,"v":22.7},{"t":92,"v":25.7},{"t":107,"v":28},{"t":122,"v":27.3},{"t":142,"v":28.3},{"t":157,"v":25.7},{"t":187,"v":25},{"t":192,"v":29.7},{"t":207,"v":32},{"t":227,"v":33.3},{"t":234,"v":39},{"t":242,"v":39},{"t":244,"v":34},{"t":252,"v":34},{"t":259,"v":45},{"t":277,"v":50.3},{"t":292,"v":51},{"t":295,"v":66},{"t":302,"v":69},{"t":317,"v":71},{"t":320,"v":62.3},{"t":332,"v":63.7},{"t":341,"v":62.7}]},
      "mark": {"type": "area", "interpolate": "step-after", "fill": "#d9ede3", "opacity": 1, "line": {"stroke": "#52b78f", "strokeWidth": 2.5}},
      "encoding": {"x": {"field": "t", "type": "quantitative", "axis": null, "scale": {"domain": [0, 341], "range": [1210, 1358]}}, "y": {"field": "v", "type": "quantitative", "axis": null, "scale": {"domain": [0, 75], "range": [1252, 1177]}}}
    },
    {
      "data": {"name": "periods"},
      "transform": [{"filter": "datum.active"}],
      "mark": {"type": "rect", "fill": "#e9e4f4", "cornerRadius": 27},
      "encoding": {
        "x": {"field": "period", "type": "nominal", "axis": null, "scale": {"type": "band", "domain": ["1T", "1W", "1M", "6M", "1J", "3J", "5J", "max"], "range": [17, 1369], "paddingInner": 0, "paddingOuter": 0}},
        "y": {"datum": 1296, "type": "quantitative", "axis": null, "scale": {"domain": [0, 1374], "range": [0, 1374]}},
        "y2": {"datum": 1350}
      }
    },
    {
      "data": {"name": "periods"},
      "mark": {"type": "text", "fontSize": 22.5, "font": "Inter", "fontWeight": 500, "baseline": "middle"},
      "encoding": {
        "x": {"field": "period", "type": "nominal", "axis": null, "scale": {"type": "band", "domain": ["1T", "1W", "1M", "6M", "1J", "3J", "5J", "max"], "range": [17, 1369], "paddingInner": 0, "paddingOuter": 0}},
        "y": {"datum": 1271, "type": "quantitative", "axis": null, "scale": {"domain": [0, 1374], "range": [0, 1374]}},
        "text": {"field": "change"},
        "color": {"condition": {"test": "datum.up", "value": "#2f7d5f"}, "value": "#333333"}
      }
    },
    {
      "data": {"name": "periods"},
      "mark": {"type": "text", "fontSize": 27, "font": "Inter", "fontWeight": 600, "baseline": "middle", "color": "#3d1f6e"},
      "encoding": {
        "x": {"field": "period", "type": "nominal", "axis": null, "scale": {"type": "band", "domain": ["1T", "1W", "1M", "6M", "1J", "3J", "5J", "max"], "range": [17, 1369], "paddingInner": 0, "paddingOuter": 0}},
        "y": {"datum": 1323, "type": "quantitative", "axis": null, "scale": {"domain": [0, 1374], "range": [0, 1374]}},
        "text": {"field": "period"}
      }
    }
  ]
}
